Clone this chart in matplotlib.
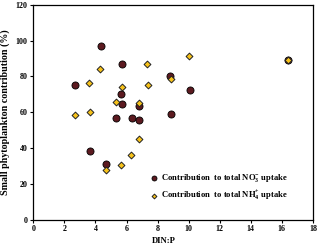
import matplotlib
matplotlib.use("Agg")
import matplotlib.pyplot as plt

# NO3- contribution (dark circles)
no3_x = [2.69, 4.33, 5.71, 5.67, 5.74, 5.33, 6.33, 6.80, 6.82, 3.67, 4.71, 8.79, 10.08, 8.85, 16.4]
no3_y = [75.3, 96.7, 86.8, 70.0, 64.7, 56.8, 56.8, 55.7, 63.5, 38.4, 31.2, 80.1, 72.5, 58.9, 89.0]
# NH4+ contribution (yellow diamonds)
nh4_x = [2.69, 3.58, 3.67, 4.31, 5.31, 5.74, 6.80, 6.78, 6.31, 5.67, 4.69, 7.31, 7.36, 8.85, 10.03, 16.4]
nh4_y = [58.4, 76.3, 59.9, 84.4, 66.0, 74.2, 65.3, 44.9, 36.2, 30.4, 27.8, 87.0, 75.3, 78.6, 91.2, 89.0]

xticks = [0, 2, 4, 6, 8, 10, 12, 14, 16, 18]
yticks = [0, 20, 40, 60, 80, 100, 120]

plt.rcParams['font.family'] = ['Liberation Serif', 'DejaVu Serif']
plt.rcParams['font.weight'] = 'bold'
plt.rcParams['mathtext.fontset'] = 'custom'
plt.rcParams['mathtext.rm'] = 'Liberation Serif:bold'
plt.rcParams['mathtext.it'] = 'Liberation Serif:bold'
plt.rcParams['mathtext.bf'] = 'Liberation Serif:bold'

fig = plt.figure(figsize=(3.2, 2.46), dpi=100)
ax = fig.add_axes([0.104, 0.106, 0.874, 0.875])

ax.scatter(no3_x, no3_y, s=26, marker='o', facecolor='#5c1a20', edgecolor='black',
           linewidth=0.6, zorder=3, label='Contribution  to total NO$_3^{-}$ uptake')
ax.scatter(nh4_x, nh4_y, s=12, marker='D', facecolor='#f7c21a', edgecolor='#222222',
           linewidth=0.7, zorder=4, label='Contribution  to total NH$_4^{+}$ uptake')

ax.set_xlim(0, 18)
ax.set_ylim(0, 120)
ax.set_xticks(xticks)
ax.set_yticks(yticks)
ax.tick_params(axis='both', labelsize=5.8, length=2, width=0.8, direction='out', pad=2)
for lbl in ax.get_xticklabels() + ax.get_yticklabels():
    lbl.set_fontweight('bold')
for sp in ax.spines.values():
    sp.set_linewidth(0.9)

ax.set_xlabel('DIN:P', fontsize=6.2, fontweight='bold')
ax.set_ylabel('Small phytoplankton contribution (%)', fontsize=7.2, fontweight='bold')
ax.xaxis.set_label_coords(0.467, -0.098)
ax.xaxis.label.set_va('center')
ax.yaxis.set_label_coords(-0.083, 0.5)

leg = ax.legend(loc='center left', bbox_to_anchor=(0.405, 0.152), frameon=False,
                prop={'size': 6.2, 'weight': 'bold'}, handletextpad=0.3,
                labelspacing=0.55, borderaxespad=0, handlelength=1.0,
                markerscale=0.7)

fig.savefig('out.png', dpi=100)
